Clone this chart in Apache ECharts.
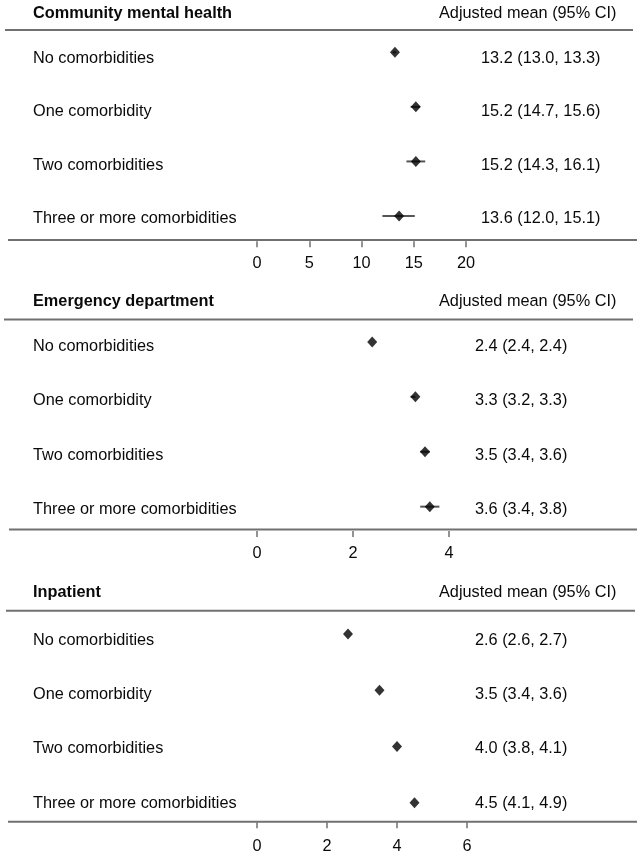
<!DOCTYPE html>
<html>
<head>
<meta charset="utf-8">
<script src="https://cdn.jsdelivr.net/npm/echarts@6/dist/echarts.min.js"></script>
<style>
html,body{margin:0;padding:0;background:#fff;}
#chart{width:640px;height:855px;}
</style>
</head>
<body>
<div id="chart"></div>
<script>
// ---- data ----
const categories = ["No comorbidities", "One comorbidity", "Two comorbidities", "Three or more comorbidities"];

const panelTitles = ["Community mental health", "Emergency department", "Inpatient"];
const columnHeader = "Adjusted mean (95% CI)";

const cmhMean = [13.2, 15.2, 15.2, 13.6];
const cmhLow  = [13.0, 14.7, 14.3, 12.0];
const cmhHigh = [13.3, 15.6, 16.1, 15.1];
const cmhTicks = [0, 5, 10, 15, 20];

const edMean = [2.4, 3.3, 3.5, 3.6];
const edLow  = [2.4, 3.2, 3.4, 3.4];
const edHigh = [2.4, 3.3, 3.6, 3.8];
const edTicks = [0, 2, 4];

const ipMean = [2.6, 3.5, 4.0, 4.5];
const ipLow  = [2.6, 3.4, 3.8, 4.1];
const ipHigh = [2.7, 3.6, 4.1, 4.9];
const ipTicks = [0, 2, 4, 6];

// ---- layout / style ----
const FONT = "'Liberation Sans', Arial, sans-serif";
const FS = 16.3;
const LINE = '#707070';
const TEXT = '#0a0a0a';

const panels = [
  { mean: cmhMean, low: cmhLow, high: cmhHigh, ticks: cmhTicks, showCI: true,
    marker: { left: 257, width: 209, top: 25, height: 218.3, offset: -2 }, tickMargin: 14,
    label: { top: 31.7, height: 213.3, right: 159 },
    titleTop: 5.5, lines: [[5, 30, 633], [8, 240, 637]] },
  { mean: edMean, low: edLow, high: edHigh, ticks: edTicks, showCI: true,
    marker: { left: 257, width: 192, top: 314.5, height: 219.6, offset: -3 }, tickMargin: 14,
    label: { top: 319.6, height: 216.8, right: 165 },
    titleTop: 293.5, lines: [[4, 319.5, 633], [9, 529.5, 637]] },
  { mean: ipMean, low: ipLow, high: ipHigh, ticks: ipTicks, showCI: false,
    marker: { left: 257, width: 210, top: 605.9, height: 224.9, offset: -8.5 }, tickMargin: 16,
    label: { top: 613.5, height: 216.7, right: 165 },
    titleTop: 584.5, lines: [[6, 610.7, 635], [8, 821.7, 637]] }
];

const fmt = v => v.toFixed(1);

const grid = [], xAxis = [], yAxis = [], series = [], title = [], graphic = [];

panels.forEach((p, k) => {
  const gm = grid.length;
  grid.push({ left: p.marker.left, width: p.marker.width, top: p.marker.top, height: p.marker.height });
  const gl = grid.length;
  grid.push({ left: 33, right: p.label.right, top: p.label.top, height: p.label.height });

  const tmin = p.ticks[0], tmax = p.ticks[p.ticks.length - 1];
  const xm = xAxis.length;
  xAxis.push({
    type: 'value', gridIndex: gm, min: tmin, max: tmax, interval: p.ticks[1] - p.ticks[0],
    offset: p.marker.offset,
    axisLine: { show: false },
    axisTick: { show: true, length: 6, lineStyle: { color: LINE, width: 1.5 } },
    splitLine: { show: false },
    axisLabel: { margin: p.tickMargin, fontSize: FS, color: TEXT, fontFamily: FONT }
  });
  xAxis.push({ type: 'value', gridIndex: gl, show: false });

  const ym = yAxis.length;
  yAxis.push({ type: 'category', gridIndex: gm, data: categories, inverse: true, show: false });
  yAxis.push({
    type: 'category', gridIndex: gl, data: categories, inverse: true, position: 'left',
    axisLine: { show: false }, axisTick: { show: false }, splitLine: { show: false },
    axisLabel: { interval: 0, align: 'left', margin: 0, fontSize: FS, color: TEXT, fontFamily: FONT }
  });
  yAxis.push({
    type: 'category', gridIndex: gl, inverse: true, position: 'right',
    data: p.mean.map((m, i) => `${fmt(m)} (${fmt(p.low[i])}, ${fmt(p.high[i])})`),
    axisLine: { show: false }, axisTick: { show: false }, splitLine: { show: false },
    axisLabel: { interval: 0, align: 'left', margin: 0, fontSize: FS, color: TEXT, fontFamily: FONT }
  });

  if (p.showCI) {
    series.push({
      type: 'custom', xAxisIndex: xm, yAxisIndex: ym,
      data: p.low.map((lo, i) => [lo, i, p.high[i]]),
      encode: { x: [0, 2], y: 1 },
      renderItem: (params, api) => {
        const y = api.value(1);
        const a = api.coord([api.value(0), y]);
        const b = api.coord([api.value(2), y]);
        return { type: 'line', shape: { x1: a[0], y1: a[1], x2: b[0], y2: b[1] },
                 style: { stroke: '#555', lineWidth: 2 } };
      },
      silent: true
    });
  }
  series.push({
    type: 'scatter', xAxisIndex: xm, yAxisIndex: ym,
    data: p.mean.map((m, i) => [m, i]),
    symbol: 'diamond', symbolSize: [10, 11],
    itemStyle: { color: '#000' }, silent: true, z: 5
  });

  title.push({ text: panelTitles[k], left: 33, top: p.titleTop, padding: 0,
    textStyle: { fontSize: FS, fontWeight: 'bold', color: TEXT, fontFamily: FONT } });
  title.push({ text: columnHeader, left: 439, top: p.titleTop, padding: 0,
    textStyle: { fontSize: FS, fontWeight: 'normal', color: TEXT, fontFamily: FONT } });

  p.lines.forEach(l => {
    graphic.push({ type: 'line', shape: { x1: l[0], y1: l[1], x2: l[2], y2: l[1] },
      style: { stroke: LINE, lineWidth: 2 }, silent: true });
  });
});

const chart = echarts.init(document.getElementById('chart'), null, { renderer: 'canvas' });
chart.setOption({
  animation: false,
  backgroundColor: '#fff',
  title, grid, xAxis, yAxis, series, graphic
});
</script>
</body>
</html>
